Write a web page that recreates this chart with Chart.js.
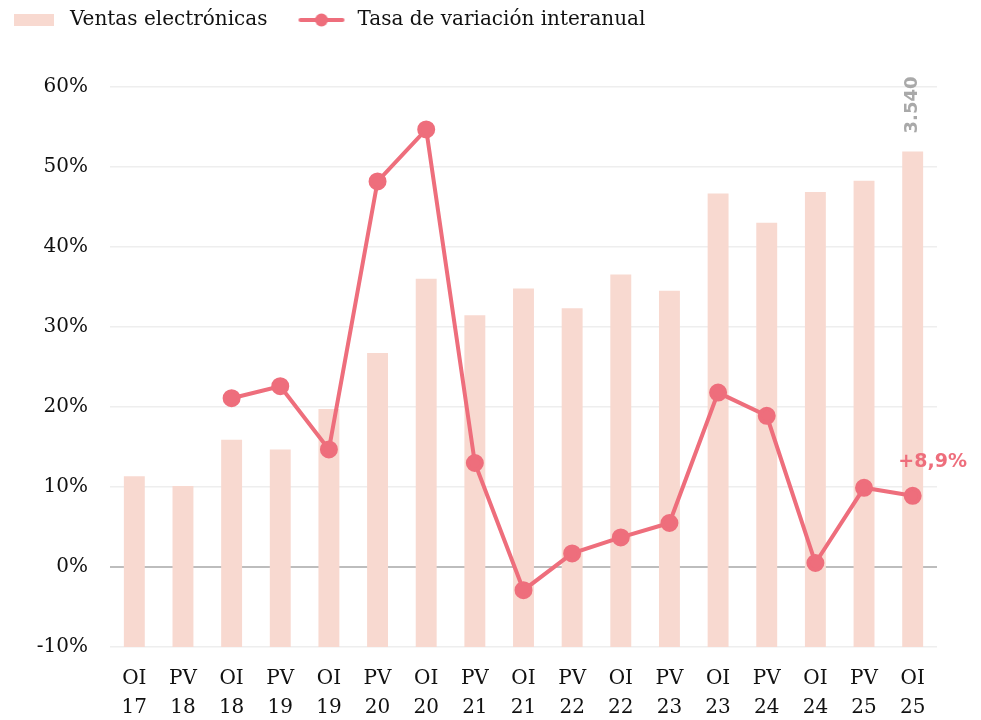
<!DOCTYPE html>
<html>
<head>
<meta charset="utf-8">
<script src="https://cdn.jsdelivr.net/npm/chart.js@4.4.1/dist/chart.umd.min.js"></script>
<style>
  html, body { margin: 0; padding: 0; background: #fff; }
  #wrap { width: 981px; height: 720px; }
</style>
</head>
<body>
<div id="wrap"><canvas id="chart"></canvas></div>
<script>
const labels = [
  ["OI", "17"], ["PV", "18"], ["OI", "18"], ["PV", "19"], ["OI", "19"], ["PV", "20"],
  ["OI", "20"], ["PV", "21"], ["OI", "21"], ["PV", "22"], ["OI", "22"], ["PV", "23"],
  ["OI", "23"], ["PV", "24"], ["OI", "24"], ["PV", "25"], ["OI", "25"]
];
// ventas (barras, eje oculto)
const ventas = [1220, 1150, 1480, 1410, 1700, 2100, 2630, 2370, 2560, 2420, 2660, 2545, 3240, 3030, 3250, 3330, 3540];
// tasa de variación interanual (%)
const tasa = [null, null, 21.1, 22.6, 14.7, 48.2, 54.7, 13.0, -2.9, 1.7, 3.7, 5.5, 21.8, 18.9, 0.5, 9.9, 8.9];
const yTicks = [-10, 0, 10, 20, 30, 40, 50, 60];

const BAR = '#f8d9d0';
const LINE = '#ee6e7c';
const SERIF = "'DejaVu Serif', serif";

function legendImg(kind) {
  const c = document.createElement('canvas');
  c.width = 52; c.height = 16;
  const g = c.getContext('2d');
  if (kind === 'bar') {
    g.fillStyle = BAR;
    g.fillRect(6, 2, 40, 12);
  } else {
    g.strokeStyle = LINE; g.lineWidth = 4; g.lineCap = 'round';
    g.beginPath(); g.moveTo(5, 8); g.lineTo(47, 8); g.stroke();
    g.fillStyle = LINE;
    g.beginPath(); g.arc(26, 8, 6.5, 0, Math.PI * 2); g.fill();
  }
  return c;
}
const legendIcons = [legendImg('bar'), legendImg('line')];

const legendSpace = {
  id: 'legendSpace',
  beforeInit(chart) {
    const fit = chart.legend.fit;
    chart.legend.fit = function () {
      fit.call(this);
      this.height += 47;
    };
  }
};

const endLabels = {
  id: 'endLabels',
  afterDatasetsDraw(chart) {
    const ctx = chart.ctx;
    const barMeta = chart.getDatasetMeta(1);
    const lineMeta = chart.getDatasetMeta(0);
    const last = ventas.length - 1;
    const bar = barMeta.data[last];
    ctx.save();
    ctx.font = "bold 18px 'DejaVu Sans', sans-serif";
    ctx.fillStyle = '#a9a9a9';
    ctx.translate(bar.x, bar.y - 18);
    ctx.rotate(-Math.PI / 2);
    ctx.textAlign = 'left';
    ctx.textBaseline = 'middle';
    ctx.fillText(ventas[last].toLocaleString('de-DE'), 0, 0);
    ctx.restore();

    const pt = lineMeta.data[last];
    ctx.save();
    ctx.font = "bold 19px 'DejaVu Sans', sans-serif";
    ctx.fillStyle = LINE;
    ctx.textAlign = 'center';
    ctx.textBaseline = 'bottom';
    ctx.fillText('+' + tasa[last].toFixed(1).replace('.', ',') + '%', pt.x + 20, pt.y - 24);
    ctx.restore();
  }
};

new Chart(document.getElementById('chart'), {
  data: {
    labels: labels,
    datasets: [
      {
        type: 'line',
        label: 'Tasa de variación interanual',
        data: tasa,
        yAxisID: 'y',
        borderColor: LINE,
        backgroundColor: LINE,
        borderWidth: 4,
        pointRadius: 7,
        pointHoverRadius: 7,
        tension: 0,
        order: 0
      },
      {
        type: 'bar',
        label: 'Ventas electrónicas',
        data: ventas,
        yAxisID: 'y1',
        backgroundColor: BAR,
        barPercentage: 0.86,
        categoryPercentage: 0.5,
        order: 1
      }
    ]
  },
  options: {
    responsive: true,
    maintainAspectRatio: false,
    animation: false,
    layout: { padding: { top: -18, right: 44, left: -20, bottom: 0 } },
    plugins: {
      tooltip: { enabled: false },
      legend: {
        position: 'top',
        align: 'start',
        reverse: true,
        labels: {
          usePointStyle: true,
          pointStyleWidth: 52,
          boxHeight: 16,
          padding: 28,
          color: '#111',
          font: { family: SERIF, size: 20 },
          generateLabels(chart) {
            const items = Chart.defaults.plugins.legend.labels.generateLabels(chart);
            items.forEach(it => { it.pointStyle = legendIcons[it.datasetIndex === 1 ? 0 : 1]; });
            return items;
          }
        }
      }
    },
    scales: {
      x: {
        grid: { display: false },
        border: { display: false },
        ticks: { color: '#111', font: { family: SERIF, size: 20, lineHeight: 1.45 }, maxRotation: 0, autoSkip: false, padding: 9 },
        afterFit(s) { s.height = 73; }
      },
      y: {
        position: 'left',
        min: -10,
        max: 60,
        afterBuildTicks(s) { s.ticks = yTicks.map(v => ({ value: v })); },
        border: { display: false },
        grid: {
          drawTicks: false,
          color: ctx => ctx.tick && ctx.tick.value === 0 ? '#bdbdbd' : '#eeeeee',
          lineWidth: ctx => ctx.tick && ctx.tick.value === 0 ? 2 : 1.5
        },
        ticks: {
          color: '#111',
          padding: 22,
          font: { family: SERIF, size: 20 },
          callback: v => v + '%'
        },
        afterFit(s) { s.width = 130; }
      },
      y1: {
        display: false,
        min: 0,
        max: 4000
      }
    }
  },
  plugins: [endLabels, legendSpace]
});
</script>
</body>
</html>
